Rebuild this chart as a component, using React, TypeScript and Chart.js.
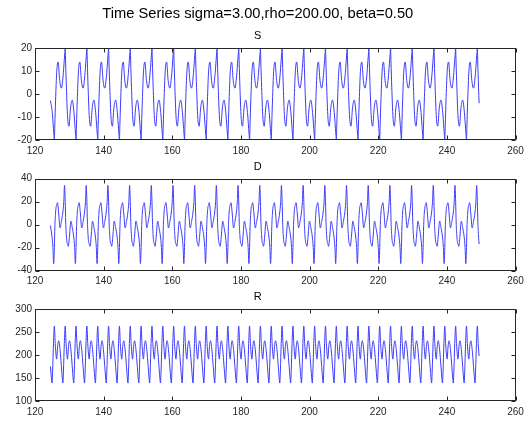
import React, { useEffect, useRef } from 'react';
import { Chart, registerables } from 'chart.js';

Chart.register(...registerables);

const FONT = "'Liberation Sans', Arial, Helvetica, sans-serif";

const MAIN_TITLE = 'Time Series sigma=3.00,rho=200.00, beta=0.50';
const PANEL_TITLES = ['S', 'D', 'R'];

const X_MIN = 120;
const X_MAX = 260;
const X_STEP = 20;

const S_RANGE = [-20, 20, 10];
const D_RANGE = [-40, 40, 20];
const R_RANGE = [100, 300, 50];

// times at which S reaches its -20 minimum, one per cycle
const CYCLE_TIMES = [
  119.32, 125.64, 131.96, 138.28, 144.6, 150.92, 157.24, 163.56, 169.88, 176.2,
  182.52, 188.84, 195.16, 201.48, 207.8, 214.12, 220.44, 226.76, 233.08, 239.4, 245.72,
];
const T_FIRST = 124.5;
const T_LAST = 249.4;

// one cycle of each trace: time after the cycle start, value
const S_OFFSETS = [0, 0.12, 0.35, 0.7, 1.1, 1.55, 2.05, 2.55, 2.9, 3.05, 3.16, 3.28, 3.51, 3.86, 4.26, 4.71, 5.21, 5.71, 6.06, 6.21];
const S_VALUES = [-20, -14, -3, 10, 14, 6, 2.6, 8, 15, 18, 20, 14, 3, -10, -14, -6, -2.6, -8, -15, -18];
const S_ENDS = [-2.8, -4];

const D_OFFSETS = [0, 0.15, 0.35, 0.5, 0.7, 0.9, 1.25, 1.65, 2.05, 2.45, 2.75, 2.96, 3.16, 3.31, 3.51, 3.66, 3.86, 4.06, 4.41, 4.81, 5.21, 5.61, 5.91, 6.12];
const D_VALUES = [-20, -2, 10, 15, 17, 19, 10, -3, 2.6, 10, 20, 34, 20, 2, -10, -15, -17, -19, -10, 3, -2.6, -10, -20, -34];
const D_ENDS = [-1, -17];

const R_OFFSETS = [0, 0.25, 0.68, 0.95, 1.26, 1.65, 2.05, 2.35, 2.48, 2.65, 2.9, 3.16, 3.41, 3.84, 4.11, 4.42, 4.81, 5.21, 5.51, 5.64, 5.81, 6.06];
const R_VALUES = [263, 225, 191, 218, 231, 212, 175, 146, 139, 165, 225, 263, 225, 191, 218, 231, 212, 175, 146, 139, 165, 225];
const R_ENDS = [175, 198];

function buildPoints(offsets: number[], values: number[], ends: number[]) {
  const pts: { x: number; y: number }[] = [{ x: T_FIRST, y: ends[0] }];
  CYCLE_TIMES.forEach((c) => {
    offsets.forEach((o, i) => {
      const x = c + o;
      if (x > T_FIRST + 0.05 && x < T_LAST - 0.05) pts.push({ x, y: values[i] });
    });
  });
  pts.push({ x: T_LAST, y: ends[1] });
  pts.sort((a, b) => a.x - b.x);
  return pts;
}

const LINE_COLOR = 'rgb(60,60,250)';
const AXIS_COLOR = '#262626';

const boxTicks = {
  id: 'boxTicks',
  afterDatasetsDraw(chart: any) {
    const { ctx, chartArea: a, scales } = chart;
    ctx.save();
    ctx.strokeStyle = AXIS_COLOR;
    ctx.lineWidth = 1;
    const L = Math.round(a.left) + 0.5;
    const R = Math.round(a.right) - 0.5;
    const T = Math.round(a.top) + 0.5;
    const B = Math.round(a.bottom) - 0.5;
    ctx.strokeRect(L, T, R - L, B - T);
    ctx.beginPath();
    scales.x.ticks.forEach((t: any) => {
      const px = Math.round(scales.x.getPixelForValue(t.value)) + 0.5;
      ctx.moveTo(px, B);
      ctx.lineTo(px, B - 4);
      ctx.moveTo(px, T);
      ctx.lineTo(px, T + 4);
    });
    scales.y.ticks.forEach((t: any) => {
      const py = Math.round(scales.y.getPixelForValue(t.value)) + 0.5;
      ctx.moveTo(L, py);
      ctx.lineTo(L + 4, py);
      ctx.moveTo(R, py);
      ctx.lineTo(R - 4, py);
    });
    ctx.stroke();
    ctx.restore();
  },
};

type PanelSpec = {
  top: number;
  height: number;
  range: number[];
  points: { x: number; y: number }[];
  title: string;
  titlePad: { top: number; bottom: number };
  mainTitle?: { text: string; pad: { top: number; bottom: number } };
  xAxisHeight: number;
};

const PANELS: PanelSpec[] = [
  {
    top: 0,
    height: 160,
    range: S_RANGE,
    points: buildPoints(S_OFFSETS, S_VALUES, S_ENDS),
    title: PANEL_TITLES[0],
    titlePad: { top: 6.7, bottom: 5.4 },
    mainTitle: { text: MAIN_TITLE, pad: { top: 5.3, bottom: 0 } },
    xAxisHeight: 20,
  },
  {
    top: 160,
    height: 130,
    range: D_RANGE,
    points: buildPoints(D_OFFSETS, D_VALUES, D_ENDS),
    title: PANEL_TITLES[1],
    titlePad: { top: 0, bottom: 5.3 },
    xAxisHeight: 19.5,
  },
  {
    top: 290,
    height: 135,
    range: R_RANGE,
    points: buildPoints(R_OFFSETS, R_VALUES, R_ENDS),
    title: PANEL_TITLES[2],
    titlePad: { top: 0.4, bottom: 5.4 },
    xAxisHeight: 24,
  },
];

function makeConfig(p: PanelSpec): any {
  const titleOpts = p.mainTitle
    ? {
        display: true,
        text: p.mainTitle.text,
        color: '#000',
        font: { family: FONT, size: 14.7, weight: 'normal' },
        padding: p.mainTitle.pad,
      }
    : {
        display: true,
        text: p.title,
        color: '#000',
        font: { family: FONT, size: 11, weight: 'normal' },
        padding: p.titlePad,
      };
  const subtitleOpts = p.mainTitle
    ? {
        display: true,
        text: p.title,
        color: '#000',
        font: { family: FONT, size: 11, weight: 'normal' },
        padding: p.titlePad,
      }
    : { display: false };
  return {
    type: 'line',
    data: {
      datasets: [
        {
          data: p.points,
          borderColor: LINE_COLOR,
          borderWidth: 1,
          pointRadius: 0,
          fill: false,
          cubicInterpolationMode: 'monotone',
        },
      ],
    },
    options: {
      animation: false,
      responsive: false,
      maintainAspectRatio: false,
      devicePixelRatio: 1,
      events: [],
      layout: { padding: { left: 0, right: 15.5, top: 0, bottom: 0 } },
      plugins: {
        legend: { display: false },
        tooltip: { enabled: false },
        title: titleOpts,
        subtitle: subtitleOpts,
      },
      scales: {
        x: {
          type: 'linear',
          min: X_MIN,
          max: X_MAX,
          grid: { display: false, drawTicks: false },
          border: { display: false },
          ticks: { stepSize: X_STEP, padding: 5, color: AXIS_COLOR, font: { family: FONT, size: 10 }, maxRotation: 0 },
          afterFit: (s: any) => {
            s.height = p.xAxisHeight;
          },
        },
        y: {
          type: 'linear',
          min: p.range[0],
          max: p.range[1],
          grid: { display: false, drawTicks: false },
          border: { display: false },
          ticks: { stepSize: p.range[2], padding: 3, color: AXIS_COLOR, font: { family: FONT, size: 10 } },
          afterFit: (s: any) => {
            s.width = 35;
          },
        },
      },
    },
    plugins: [boxTicks],
  };
}

export default function App() {
  const r0 = useRef<HTMLCanvasElement>(null);
  const r1 = useRef<HTMLCanvasElement>(null);
  const r2 = useRef<HTMLCanvasElement>(null);
  const refs = [r0, r1, r2];

  useEffect(() => {
    const charts = PANELS.map((p, i) => new Chart(refs[i].current as HTMLCanvasElement, makeConfig(p)));
    return () => charts.forEach((c) => c.destroy());
  }, []);

  return (
    <div style={{ position: 'fixed', left: 0, top: 0, width: 531, height: 425, background: '#fff' }}>
      {PANELS.map((p, i) => (
        <canvas
          key={i}
          ref={refs[i]}
          width={531}
          height={p.height}
          style={{ position: 'absolute', left: 0, top: p.top, width: 531, height: p.height, display: 'block' }}
        />
      ))}
    </div>
  );
}
